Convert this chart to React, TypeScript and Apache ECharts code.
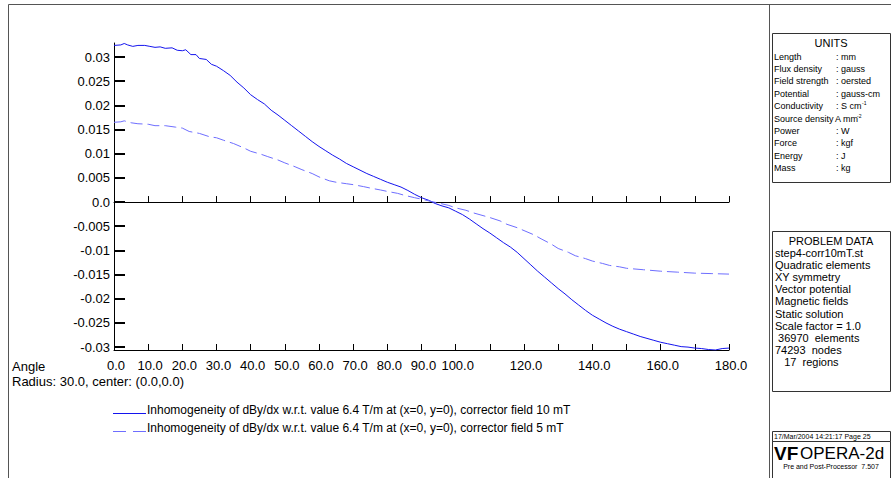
import React, { useEffect, useRef } from "react";
import * as echarts from "echarts";

const FONT = "'Liberation Sans', Arial, sans-serif";

const seriesNames = [
  "Inhomogeneity of dBy/dx w.r.t. value 6.4 T/m at (x=0, y=0), corrector field 10 mT",
  "Inhomogeneity of dBy/dx w.r.t. value 6.4 T/m at (x=0, y=0), corrector field 5 mT",
];
const seriesColors = ["#1414ee", "#6e6eff"];

const anglesA = [0, 2, 3, 4, 5.5, 7, 9, 10.5, 12, 13.5, 15, 17, 18.5, 20, 21, 22.5, 24, 25, 27, 28.5, 30, 32, 34, 36, 38, 40, 42, 44, 46, 48, 50, 52, 54, 56, 58, 60, 62, 64, 66, 68, 70, 72, 74, 76, 78, 80, 82, 84, 86, 88, 90, 92, 94, 96, 98, 100, 102, 104, 106, 108, 110, 112, 114, 116, 118, 120, 122, 124, 126, 128, 130, 132, 134, 136, 138, 140, 142, 144, 146, 148, 150, 152, 154, 156, 158, 160, 162, 164, 166, 168, 170, 172, 174, 176, 178, 180];
const valuesA = [0.0324, 0.0325, 0.0328, 0.0325, 0.0322, 0.0324, 0.0324, 0.0322, 0.032, 0.0321, 0.0318, 0.0319, 0.0314, 0.0313, 0.0315, 0.0305, 0.0305, 0.0297, 0.0295, 0.0285, 0.0281, 0.0272, 0.0262, 0.0248, 0.0236, 0.0222, 0.0212, 0.0203, 0.019, 0.018, 0.0169, 0.0158, 0.0147, 0.0136, 0.0125, 0.0115, 0.0106, 0.0097, 0.0089, 0.008, 0.0073, 0.0066, 0.0059, 0.0053, 0.0047, 0.0041, 0.0036, 0.0031, 0.0024, 0.0016, 0.0009, 0.0004, -0.0003, -0.0008, -0.0012, -0.0019, -0.0026, -0.0035, -0.0045, -0.0055, -0.0064, -0.0074, -0.0084, -0.0093, -0.0104, -0.0117, -0.013, -0.0143, -0.0155, -0.0167, -0.0179, -0.019, -0.0202, -0.0213, -0.0224, -0.0234, -0.0242, -0.025, -0.0257, -0.0263, -0.0268, -0.0273, -0.0278, -0.0282, -0.0286, -0.029, -0.0293, -0.0296, -0.0299, -0.03, -0.0302, -0.0303, -0.0305, -0.0306, -0.0303, -0.0302];

const anglesB = [0, 2, 3, 5, 7, 10, 12, 15, 18, 20, 22, 25, 28, 30, 32, 35, 38, 40, 43, 45, 48, 50, 53, 55, 58, 60, 63, 65, 68, 70, 73, 75, 78, 80, 83, 85, 88, 90, 93, 95, 98, 100, 103, 105, 108, 110, 113, 115, 118, 120, 123, 125, 128, 130, 133, 135, 138, 140, 143, 145, 148, 150, 155, 160, 165, 170, 175, 180];
const valuesB = [0.0165, 0.0166, 0.0168, 0.0164, 0.0162, 0.0161, 0.0158, 0.0158, 0.0155, 0.0153, 0.0146, 0.0142, 0.0135, 0.0133, 0.0128, 0.0121, 0.0112, 0.0105, 0.0099, 0.0094, 0.0087, 0.0081, 0.0073, 0.0067, 0.0059, 0.0052, 0.0044, 0.0041, 0.0038, 0.0036, 0.0032, 0.0029, 0.0025, 0.0022, 0.0018, 0.0014, 0.0009, 0.0006, 0.0001, -0.0002, -0.0007, -0.0012, -0.0017, -0.0022, -0.0028, -0.0032, -0.0039, -0.0046, -0.0053, -0.0059, -0.0068, -0.0076, -0.0087, -0.0096, -0.0104, -0.0111, -0.0117, -0.0122, -0.0127, -0.0131, -0.0134, -0.0137, -0.014, -0.0143, -0.0145, -0.0147, -0.0148, -0.0149];

const yTicks = [-0.03, -0.025, -0.02, -0.015, -0.01, -0.005, 0, 0.005, 0.01, 0.015, 0.02, 0.025, 0.03];
const yTickLabels = ["-0.03", "-0.025", "-0.02", "-0.015", "-0.01", "-0.005", "0.0", "0.005", "0.01", "0.015", "0.02", "0.025", "0.03"];

const unitsRows = [
  ["Length", ": mm"],
  ["Flux density", ": gauss"],
  ["Field strength", ": oersted"],
  ["Potential", ": gauss-cm"],
  ["Conductivity", ": S cm"],
  ["Source density", "A mm"],
  ["Power", ": W"],
  ["Force", ": kgf"],
  ["Energy", ": J"],
  ["Mass", ": kg"],
];
const unitsSup = ["", "", "", "", "-1", "-2", "", "", "", ""];

const problemRows = [
  "step4-corr10mT.st",
  "Quadratic elements",
  "XY symmetry",
  "Vector potential",
  "Magnetic fields",
  "Static solution",
  "Scale factor = 1.0",
  " 36970  elements",
  "74293  nodes",
  "   17  regions",
];

function txt(x: number, y: number, text: string, size: number, align = "left", extra: any = {}) {
  return {
    type: "text",
    x,
    y,
    silent: true,
    style: {
      text,
      fill: "#000",
      font: `${extra.weight || "normal"} ${size}px ${FONT}`,
      textAlign: align,
      textVerticalAlign: "middle",
      ...(extra.style || {}),
    },
  };
}

function line(x1: number, y1: number, x2: number, y2: number, color = "#444", w = 1, dash?: number[]) {
  return {
    type: "line",
    silent: true,
    shape: { x1, y1, x2, y2 },
    style: { stroke: color, lineWidth: w, ...(dash ? { lineDash: dash } : {}) },
  };
}

function rect(x: number, y: number, w: number, h: number) {
  return { type: "rect", silent: true, shape: { x, y, width: w, height: h }, style: { fill: "none", stroke: "#333", lineWidth: 1 } };
}

export default function App() {
  const ref = useRef<HTMLDivElement>(null);
  useEffect(() => {
    if (!ref.current) return;
    const chart = echarts.init(ref.current, undefined, { renderer: "svg" });

    const graphics: any[] = [];
    // frame
    graphics.push(line(8.5, 4.5, 891, 4.5, "#555"));
    graphics.push(line(8.5, 4.5, 8.5, 478, "#555"));
    graphics.push(line(769.5, 4.5, 769.5, 478, "#555"));
    // units box
    graphics.push(rect(772.5, 33.5, 118, 149));
    graphics.push(txt(831, 42.5, "UNITS", 11, "center"));
    unitsRows.forEach((r, i) => {
      const y = 56.5 + i * 12.4;
      graphics.push(txt(774, y, r[0], 9));
      const x2 = r[1].startsWith(":") ? 836 : 835;
      graphics.push(txt(x2, y, r[1], 9));
      if (unitsSup[i]) {
        const w = r[1] === ": S cm" ? 26 : 22;
        graphics.push(txt(x2 + w, y - 3, unitsSup[i], 5));
      }
    });
    // problem data box
    graphics.push(rect(772.5, 231.5, 118, 160));
    graphics.push(txt(831, 240.5, "PROBLEM DATA", 11, "center"));
    problemRows.forEach((r, i) => {
      graphics.push(txt(775, 252.5 + i * 12.2, r, 11, "left", { style: { whiteSpace: "pre" } }));
    });
    // footer
    graphics.push(rect(772.5, 431.5, 118, 10));
    graphics.push(txt(774, 436.5, "17/Mar/2004 14:21:17 Page 25", 7));
    graphics.push(rect(772.5, 441.5, 118, 40));
    graphics.push(txt(774, 453, "VF", 19, "left", { weight: "bold" }));
    graphics.push(txt(800, 453, "OPERA-2d", 17));
    graphics.push(txt(831, 466, "Pre and Post-Processor  7.507", 7, "center"));
    // axis captions
    graphics.push(txt(12, 366, "Angle", 13));
    graphics.push(txt(12, 381, "Radius: 30.0, center: (0.0,0.0)", 13));
    // legend
    graphics.push(line(113, 413.5, 146, 413.5, seriesColors[0], 1.2));
    graphics.push(txt(147, 410, seriesNames[0], 12));
    graphics.push(line(113, 431.5, 146, 431.5, seriesColors[1], 1.2, [13, 7]));
    graphics.push(txt(147, 428, seriesNames[1], 12));

    const option: any = {
      animation: false,
      backgroundColor: "#fff",
      textStyle: { fontFamily: FONT },
      grid: { left: 114, right: 162, top: 43, bottom: 128, containLabel: false },
      xAxis: [
        {
          type: "value",
          min: 0,
          max: 180,
          interval: 10,
          position: "bottom",
          axisLine: { onZero: false, lineStyle: { color: "#000", width: 1 } },
          axisTick: { inside: true, length: 6, lineStyle: { color: "#000" } },
          splitLine: { show: false },
          axisLabel: {
            color: "#000",
            fontSize: 13,
            fontFamily: FONT,
            margin: 9,
            padding: [0, 0, 0, 4],
            showMaxLabel: true,
            showMinLabel: true,
            formatter: (v: number) => (v <= 100 || v % 20 === 0 ? v.toFixed(1) : ""),
          },
        },
        {
          type: "value",
          min: 0,
          max: 180,
          interval: 10,
          position: "top",
          axisLine: { onZero: true, lineStyle: { color: "#000", width: 1 } },
          axisTick: { inside: false, length: 6, lineStyle: { color: "#000" } },
          splitLine: { show: false },
          axisLabel: { show: false },
        },
      ],
      yAxis: {
        type: "value",
        min: -0.0306,
        max: 0.0329,
        axisLine: { show: true, onZero: false, lineStyle: { color: "#000", width: 1 } },
        axisTick: { show: true, inside: true, length: 11, customValues: yTicks, lineStyle: { color: "#000", width: 2 } },
        splitLine: { show: false },
        axisLabel: {
          customValues: yTicks,
          color: "#000",
          fontSize: 13,
          fontFamily: FONT,
          margin: 4,
          formatter: (v: number) => {
            const i = yTicks.findIndex((t) => Math.abs(t - v) < 1e-9);
            return i >= 0 ? yTickLabels[i] : "";
          },
        },
      },
      series: [
        {
          name: seriesNames[0],
          type: "line",
          xAxisIndex: 0,
          showSymbol: false,
          symbol: "none",
          data: anglesA.map((a, i) => [a, valuesA[i]]),
          lineStyle: { color: seriesColors[0], width: 1 },
          itemStyle: { color: seriesColors[0] },
        },
        {
          name: seriesNames[1],
          type: "line",
          xAxisIndex: 0,
          showSymbol: false,
          symbol: "none",
          data: anglesB.map((a, i) => [a, valuesB[i]]),
          lineStyle: { color: seriesColors[1], width: 1, type: [12, 5] },
          itemStyle: { color: seriesColors[1] },
        },
      ],
      graphic: graphics,
    };
    chart.setOption(option);
    return () => chart.dispose();
  }, []);
  return <div ref={ref} style={{ position: "fixed", left: 0, top: 0, width: 891, height: 478 }} />;
}
